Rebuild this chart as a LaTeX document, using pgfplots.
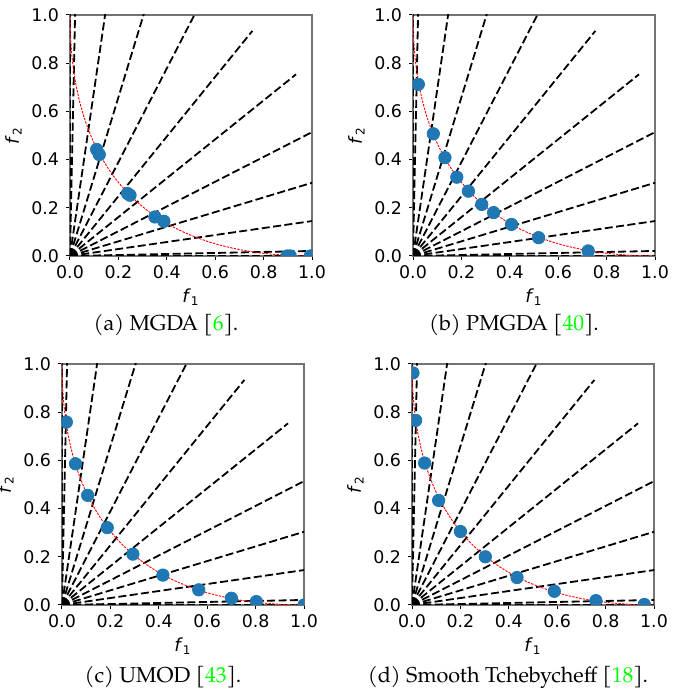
\documentclass[border=0pt]{standalone}
\usepackage{fontspec}
\setmainfont{DejaVu Sans}
\newfontfamily\capfont{TeX Gyre Pagella}
\usepackage{pgfplots}
\pgfplotsset{compat=1.18}
\definecolor{mplblue}{HTML}{1F77B4}

\pgfplotsset{
  pf/.style={
    scale only axis, width=121pt, height=120.5pt,
    xmin=0, xmax=1, ymin=0, ymax=1,
    xtick={0,0.2,0.4,0.6,0.8,1}, ytick={0,0.2,0.4,0.6,0.8,1},
    /pgf/number format/assume math mode=true,
    /pgf/number format/fixed, /pgf/number format/fixed zerofill,
    /pgf/number format/precision=1,
    tick align=outside, tick pos=left, major tick length=2pt,
    axis line style={black!55, line width=0.6pt},
    tick style={black, line width=0.5pt},
    ticklabel style={font=\fontsize{8.7}{9}\selectfont},
    xticklabel style={yshift=0.5pt},
    label style={font=\fontsize{9}{9}\selectfont},
    xlabel={\textit{f}\textsubscript{1}}, ylabel={\textit{f}\textsubscript{2}},
    xlabel style={yshift=2pt}, ylabel style={yshift=-2pt},
    clip marker paths=true,
  },
  ray/.style={black, line width=0.9pt, dash pattern=on 4pt off 1.7pt},
  pareto/.style={red, line width=0.45pt, dash pattern=on 1.2pt off 0.6pt, smooth},
  sol/.style={only marks, mark=*, mark size=3.1pt, mark options={fill=mplblue, draw=mplblue}},
}

% preference rays, length 1.2
\newcommand{\rays}{%
  \addplot[ray] coordinates {(0,0)(1.2,0)};
  \addplot[ray] coordinates {(0,0)(1.1997,0.0251)};
  \addplot[ray] coordinates {(0,0)(1.1876,0.1722)};
  \addplot[ray] coordinates {(0,0)(1.1482,0.3488)};
  \addplot[ray] coordinates {(0,0)(1.0673,0.5484)};
  \addplot[ray] coordinates {(0,0)(0.9339,0.7536)};
  \addplot[ray] coordinates {(0,0)(0.7536,0.9339)};
  \addplot[ray] coordinates {(0,0)(0.5484,1.0673)};
  \addplot[ray] coordinates {(0,0)(0.3488,1.1482)};
  \addplot[ray] coordinates {(0,0)(0.1722,1.1876)};
  \addplot[ray] coordinates {(0,0)(0.0251,1.1997)};
  \addplot[ray] coordinates {(0,0)(0,1.2)};
  \addplot[pareto] coordinates {
    (0,1)(0.000625,0.950625)(0.0025,0.9025)(0.01,0.81)(0.0225,0.7225)(0.04,0.64)
    (0.0625,0.5625)(0.09,0.49)(0.1225,0.4225)(0.16,0.36)(0.2025,0.3025)(0.25,0.25)
    (0.3025,0.2025)(0.36,0.16)(0.4225,0.1225)(0.49,0.09)(0.5625,0.0625)(0.64,0.04)
    (0.7225,0.0225)(0.81,0.01)(0.9025,0.0025)(0.950625,0.000625)(1,0)};
}

\begin{document}
\begin{tikzpicture}
\path[use as bounding box] (0,0) rectangle (338pt,348pt);

% (a) MGDA
\begin{axis}[pf, anchor=south west, at={(35pt,220pt)}]
\rays
\addplot[sol] coordinates {(0.110,0.442)(0.121,0.421)(0.238,0.259)(0.248,0.252)
  (0.351,0.162)(0.388,0.144)(0.897,0.0)(0.910,0.0)(0.993,0.0)};
\end{axis}

% (b) PMGDA
\begin{axis}[pf, anchor=south west, at={(206.5pt,220pt)}]
\rays
\addplot[sol] coordinates {(0.022,0.712)(0.084,0.507)(0.132,0.408)(0.181,0.327)
  (0.229,0.269)(0.284,0.214)(0.333,0.180)(0.407,0.131)(0.519,0.076)(0.724,0.021)};
\end{axis}

% (c) UMOD
\begin{axis}[pf, anchor=south west, at={(31pt,45.5pt)}]
\rays
\addplot[sol] coordinates {(0.018,0.759)(0.056,0.586)(0.106,0.455)(0.187,0.321)
  (0.293,0.211)(0.417,0.124)(0.565,0.063)(0.700,0.028)(0.803,0.014)(1.0,0.0)};
\end{axis}

% (d) Smooth Tchebycheff
\begin{axis}[pf, anchor=south west, at={(206pt,45.5pt)}]
\rays
\addplot[sol] coordinates {(0.004,0.963)(0.015,0.766)(0.052,0.589)(0.110,0.434)
  (0.200,0.305)(0.303,0.200)(0.434,0.114)(0.588,0.057)(0.760,0.018)(0.960,0.002)};
\end{axis}

\begin{scope}[every node/.style={font=\capfont\fontsize{10.8}{12}\selectfont, inner sep=0pt}]
\node at (83pt,185.5pt) {(a) MGDA [\textcolor{green}{6}].};
\node at (257pt,185.5pt) {(b) PMGDA [\textcolor{green}{40}].};
\node at (81.5pt,9.5pt) {(c) UMOD [\textcolor{green}{43}].};
\node at (254pt,9.5pt) {(d) Smooth Tchebycheff [\textcolor{green}{18}].};
\end{scope}
\end{tikzpicture}
\end{document}
